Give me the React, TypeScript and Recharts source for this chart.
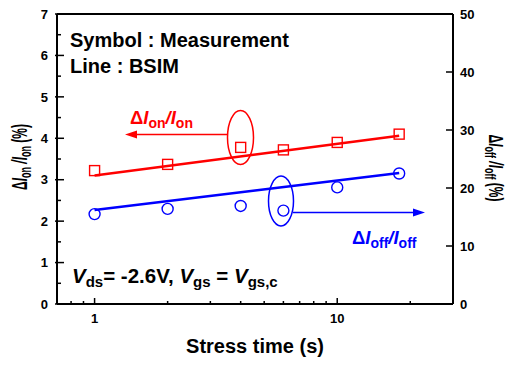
import { ComposedChart, Line, Scatter, XAxis, YAxis, ReferenceLine } from 'recharts';

// stress time (s) of the measured points
const measTime = [1, 2, 4, 6, 10, 18];
// ΔIon/Ion (%) measured, left axis
const onMeas = [3.22, 3.37, 3.78, 3.72, 3.9, 4.1];
// ΔIoff/Ioff (%) measured, right axis
const offMeas = [15.5, 16.4, 16.9, 16.1, 20.1, 22.5];

// BSIM lines
const fitTime = [1, 18];
const onFit = [3.1, 4.06];
const offFit = [16.2, 22.6];

const xTicks = [0.7, 0.8, 0.9, 1, 2, 3, 4, 5, 6, 7, 8, 9, 10, 20, 30];
const xLabels = [1, 10];
const onTicks = [0, 0.5, 1, 1.5, 2, 2.5, 3, 3.5, 4, 4.5, 5, 5.5, 6, 6.5, 7];
const offTicks = [0, 10, 20, 30, 40, 50];

const RED = '#ff0000';
const BLUE = '#0000ff';
const FONT = '"Liberation Sans", Arial, sans-serif';

const onMeasData = measTime.map((t, i) => ({ t, v: onMeas[i] }));
const offMeasData = measTime.map((t, i) => ({ t, v: offMeas[i] }));
const onFitData = fitTime.map((t, i) => ({ t, v: onFit[i] }));
const offFitData = fitTime.map((t, i) => ({ t, v: offFit[i] }));

const tickText = { fontFamily: FONT, fontWeight: 700, fontSize: 13, fill: '#000' };

function XTick({ x, y, payload }: any) {
  const major = xLabels.includes(payload.value);
  return (
    <g>
      <line x1={x} x2={x} y1={y} y2={y - (major ? 6 : 3)} stroke="#000" strokeWidth={1.5} />
      {major && (
        <text x={x} y={y + 19} textAnchor="middle" style={tickText}>
          {payload.value}
        </text>
      )}
    </g>
  );
}

function OnTick({ x, y, payload }: any) {
  const major = Number.isInteger(payload.value);
  return (
    <g>
      <line x1={x - (major ? 2 : 0)} x2={x + (major ? 7 : 4)} y1={y} y2={y} stroke="#000" strokeWidth={1.5} />
      {major && (
        <text x={x - 9} y={y} dy="0.36em" textAnchor="end" style={tickText}>
          {payload.value}
        </text>
      )}
    </g>
  );
}

function OffTick({ x, y, payload }: any) {
  return (
    <g>
      <line x1={x - 7} x2={x} y1={y} y2={y} stroke="#000" strokeWidth={1.5} />
      <text x={x + 7} y={y} dy="0.36em" textAnchor="start" style={tickText}>
        {payload.value}
      </text>
    </g>
  );
}

const Square = ({ cx, cy }: any) => (
  <rect x={cx - 5} y={cy - 5} width={10} height={10} fill="none" stroke={RED} strokeWidth={1.4} />
);
const Circle = ({ cx, cy }: any) => (
  <circle cx={cx} cy={cy} r={5.5} fill="none" stroke={BLUE} strokeWidth={1.4} />
);

const bold = { fontFamily: FONT, fontWeight: 700 };

function Overlay() {
  return (
    <svg
      width={507}
      height={365}
      style={{ position: 'absolute', left: 0, top: 0, pointerEvents: 'none' }}
    >
      <g style={bold} fontSize={20} fill="#000">
        <text x={70} y={47}>Symbol : Measurement</text>
        <text x={70} y={73}>Line : BSIM</text>
      </g>

      {/* ΔIon/Ion note */}
      <text x={130} y={124} fill={RED} style={bold} fontSize={18.5}>
        Δ<tspan fontStyle="italic">I</tspan>
        <tspan fontSize={14} dy={4}>on</tspan>
        <tspan dy={-4} fontStyle="italic">/I</tspan>
        <tspan fontSize={14} dy={4}>on</tspan>
      </text>
      <line x1={136} x2={228} y1={134.5} y2={134.5} stroke={RED} strokeWidth={1.5} />
      <polygon points="125,134.5 137,130.5 137,138.5" fill={RED} />
      <ellipse cx={240.5} cy={137.5} rx={13} ry={27} fill="none" stroke={RED} strokeWidth={1.5} />

      {/* ΔIoff/Ioff note */}
      <ellipse cx={281} cy={201} rx={12.5} ry={25} fill="none" stroke={BLUE} strokeWidth={1.5} />
      <line x1={293} x2={414} y1={212.5} y2={212.5} stroke={BLUE} strokeWidth={1.5} />
      <polygon points="425,212.5 413,208.5 413,216.5" fill={BLUE} />
      <text x={352} y={244} fill={BLUE} style={bold} fontSize={18.5}>
        Δ<tspan fontStyle="italic">I</tspan>
        <tspan fontSize={14} dy={4}>off</tspan>
        <tspan dy={-4} fontStyle="italic">/I</tspan>
        <tspan fontSize={14} dy={4}>off</tspan>
      </text>

      {/* bias condition */}
      <text x={72} y={283} style={bold} fontSize={20.5} fill="#000">
        <tspan fontStyle="italic">V</tspan>
        <tspan fontSize={15} dy={4}>ds</tspan>
        <tspan dy={-4}>= -2.6V, </tspan>
        <tspan fontStyle="italic">V</tspan>
        <tspan fontSize={15} dy={4}>gs</tspan>
        <tspan dy={-4}> = </tspan>
        <tspan fontStyle="italic">V</tspan>
        <tspan fontSize={15} dy={4}>gs,c</tspan>
      </text>

      {/* axis titles */}
      <text x={255} y={353} textAnchor="middle" style={bold} fontSize={20} fill="#000">
        Stress time (s)
      </text>
      <text
        transform="translate(27,157) rotate(-90) scale(0.6,1.1)"
        textAnchor="middle"
        style={bold}
        fontSize={20}
        fill="#000"
      >
        Δ<tspan fontStyle="italic">I</tspan>
        <tspan fontSize={15} dy={4}>on</tspan>
        <tspan dy={-4} fontStyle="italic"> /I</tspan>
        <tspan fontSize={15} dy={4}>on</tspan>
        <tspan dy={-4}> (%)</tspan>
      </text>
      <text
        transform="translate(489,168) rotate(90) scale(0.6,1)"
        textAnchor="middle"
        style={bold}
        fontSize={20}
        fill="#000"
      >
        Δ<tspan fontStyle="italic">I</tspan>
        <tspan fontSize={15} dy={4}>off</tspan>
        <tspan dy={-4} fontStyle="italic"> /I</tspan>
        <tspan fontSize={15} dy={4}>off</tspan>
        <tspan dy={-4}> (%)</tspan>
      </text>
    </svg>
  );
}

export default function App() {
  return (
    <div style={{ position: 'absolute', left: 0, top: 0, width: 507, height: 365, background: '#fff' }}>
      <ComposedChart width={507} height={365} margin={{ top: 14, right: 14, bottom: 21, left: 17 }}>
        <XAxis
          dataKey="t"
          type="number"
          scale="log"
          domain={[0.7, 30]}
          allowDataOverflow
          ticks={xTicks}
          interval={0}
          tick={<XTick />}
          tickSize={0}
          tickMargin={0}
          tickLine={false}
          axisLine={{ stroke: '#000', strokeWidth: 2 }}
          height={40}
        />
        <YAxis
          yAxisId="on"
          type="number"
          domain={[0, 7]}
          allowDataOverflow
          ticks={onTicks}
          interval={0}
          tick={<OnTick />}
          tickSize={0}
          tickMargin={0}
          tickLine={false}
          axisLine={{ stroke: '#000', strokeWidth: 2 }}
          width={40}
        />
        <YAxis
          yAxisId="off"
          orientation="right"
          type="number"
          domain={[0, 50]}
          allowDataOverflow
          ticks={offTicks}
          interval={0}
          tick={<OffTick />}
          tickSize={0}
          tickMargin={0}
          tickLine={false}
          axisLine={{ stroke: '#000', strokeWidth: 2 }}
          width={40}
        />
        <ReferenceLine yAxisId="on" y={7} stroke="#000" strokeWidth={2} />
        <Line
          yAxisId="on"
          data={onFitData}
          dataKey="v"
          stroke={RED}
          strokeWidth={2.5}
          dot={false}
          isAnimationActive={false}
        />
        <Line
          yAxisId="off"
          data={offFitData}
          dataKey="v"
          stroke={BLUE}
          strokeWidth={2.5}
          dot={false}
          isAnimationActive={false}
        />
        <Scatter yAxisId="on" data={onMeasData} dataKey="v" shape={<Square />} isAnimationActive={false} />
        <Scatter yAxisId="off" data={offMeasData} dataKey="v" shape={<Circle />} isAnimationActive={false} />
      </ComposedChart>
      <Overlay />
    </div>
  );
}
